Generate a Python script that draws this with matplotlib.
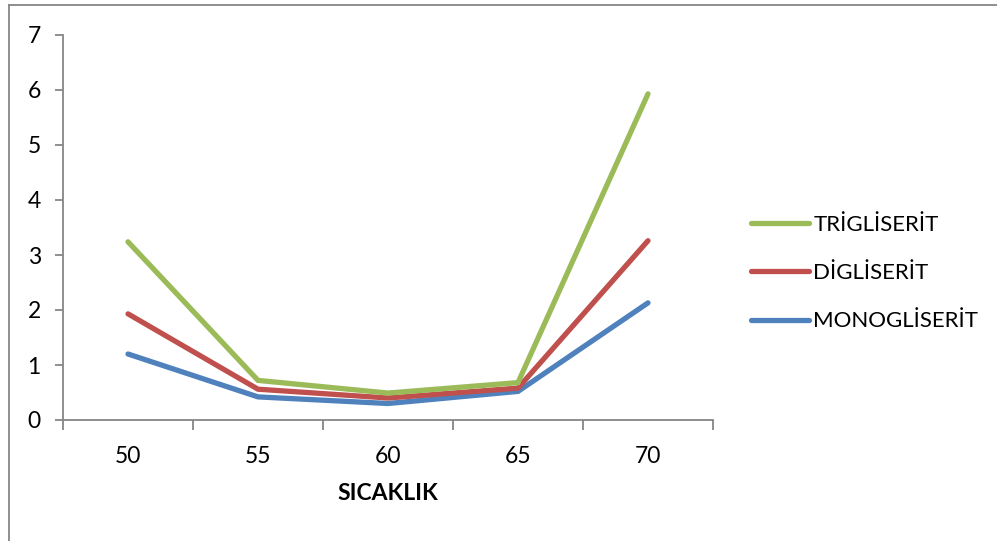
import matplotlib
import matplotlib.pyplot as plt
from matplotlib.lines import Line2D

matplotlib.use("Agg")

plt.rcParams["font.family"] = ["Lato", "DejaVu Sans"]

categories = ["50", "55", "60", "65", "70"]
trigliserit = [3.24, 0.72, 0.49, 0.68, 5.93]
digliserit = [1.93, 0.56, 0.40, 0.58, 3.26]
monogliserit = [1.20, 0.42, 0.30, 0.52, 2.13]
series_names = ["TRİGLİSERİT", "DİGLİSERİT", "MONOGLİSERİT"]
colors = ["#9BBB59", "#C0504D", "#4F81BD"]
axis_color = "#868686"

fig = plt.figure(figsize=(9.97, 5.41), dpi=100)
ax = fig.add_axes([63 / 997, 121 / 541, 650 / 997, 385 / 541])

x = list(range(len(categories)))
# draw blue first so green sits on top
for vals, col in zip([monogliserit, digliserit, trigliserit], colors[::-1]):
    ax.plot(x, vals, color=col, linewidth=3.8, solid_capstyle="round",
            solid_joinstyle="miter")

ax.set_xlim(-0.5, len(categories) - 0.5)
ax.set_ylim(0, 7)
ax.set_yticks(range(8))
ax.set_xticks([i - 0.5 for i in range(len(categories) + 1)])
ax.set_xticklabels([])
ax.set_xticks(x, minor=True)
ax.set_xticklabels(categories, minor=True)
ax.tick_params(axis="x", which="major", direction="out", length=7,
               color=axis_color, width=1.3)
ax.tick_params(axis="x", which="minor", length=0, pad=19, labelsize=16.5)
ax.tick_params(axis="y", direction="out", length=6, color=axis_color,
               width=1.3, pad=10, labelsize=16.5)

for side in ["top", "right"]:
    ax.spines[side].set_visible(False)
for side in ["left", "bottom"]:
    ax.spines[side].set_color(axis_color)
    ax.spines[side].set_linewidth(1.3)

ax.set_xlabel("SICAKLIK", fontsize=16.5, fontweight="bold", labelpad=11)

handles = [Line2D([0], [0], color=c, linewidth=3.8, solid_capstyle="round")
           for c in colors]
fig.legend(handles, series_names, loc="center left",
           bbox_to_anchor=(731 / 997, 1 - 273 / 541), frameon=False,
           fontsize=16, handlelength=2.6, handletextpad=0.2,
           labelspacing=1.28)

# outer chart border (only top and left visible in the crop)
fig.add_artist(Line2D([9 / 997, 9 / 997], [0, 1 - 5 / 541],
                      transform=fig.transFigure, color=axis_color, linewidth=1.3))
fig.add_artist(Line2D([9 / 997, 1], [1 - 5 / 541, 1 - 5 / 541],
                      transform=fig.transFigure, color=axis_color, linewidth=1.3))

fig.savefig("out.png", dpi=100)
plt.close(fig)
